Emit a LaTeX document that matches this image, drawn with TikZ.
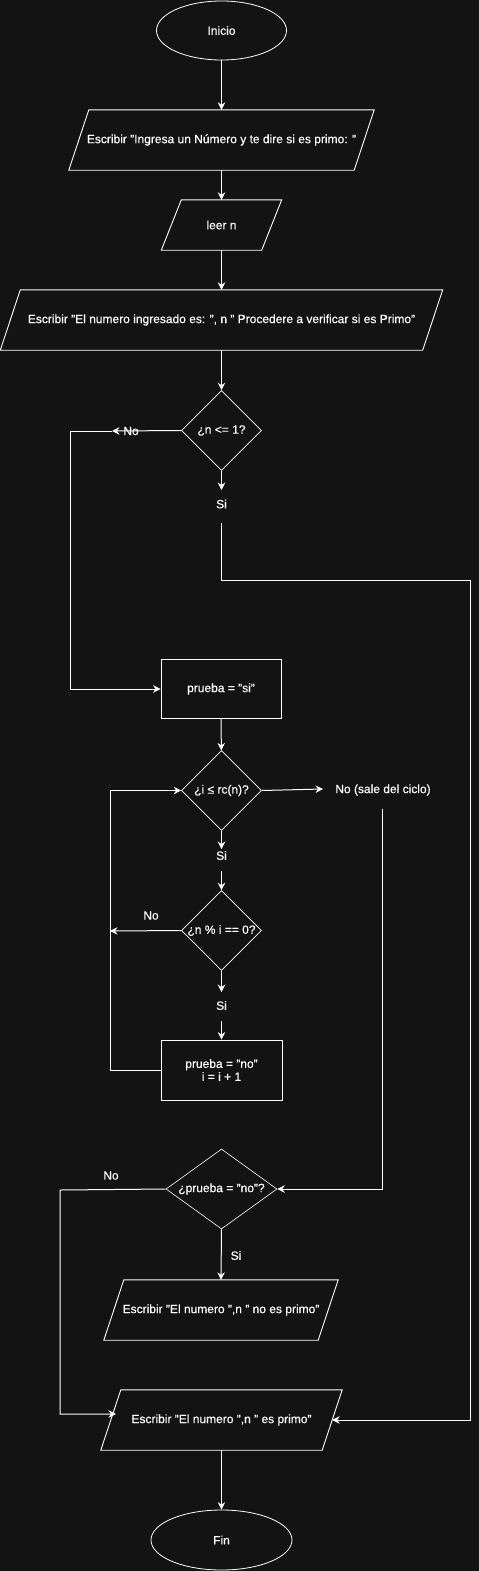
\documentclass[tikz,border=0pt]{standalone}
\usepackage{fontspec}
\setmainfont{Liberation Sans}[FakeBold=0.35]
\usetikzlibrary{shapes.geometric,arrows.meta}
\definecolor{bg}{HTML}{131313}
\newcommand{\paraoutline}[1]{%
  \draw[white, line width=0.9pt] ([xshift=10pt]#1.north west) -- ([xshift=10pt]#1.north east)
    -- ([xshift=-10pt]#1.south east) -- ([xshift=-10pt]#1.south west) -- cycle;}
\begin{document}
\begin{tikzpicture}[x=1pt,y=-1pt,
  font=\fontsize{12}{14}\selectfont,
  every node/.style={text=white},
  line/.style={draw=white, line width=1pt},
  arr/.style={line, -{Stealth[length=7.5pt,width=7.5pt,inset=2.5pt]}},
  term/.style={ellipse, draw=white, line width=0.8pt, inner sep=0pt},
  io/.style={rectangle, minimum height=60pt, inner sep=0pt},
  proc/.style={rectangle, draw=white, line width=0.9pt, minimum width=120pt, minimum height=59pt, align=center},
  dec/.style={diamond, draw=white, line width=0.6pt, minimum width=80pt, minimum height=80pt, inner sep=0pt},
  lbl/.style={inner sep=1pt}
]
\fill[bg] (0,0) rectangle (479,1571);
\useasboundingbox (0,0) rectangle (479,1571);

% nodes
\node[term, minimum width=130pt, minimum height=59pt] (ini) at (221.5,30.5) {Inicio};
\node[io, minimum width=285pt] (p1) at (221.5,140) {Escribir "Ingresa un Número y te dire si es primo: "};
\node[io, minimum width=100pt, minimum height=50pt] (p2) at (221.5,225) {leer n};
\node[io, minimum width=422pt] (p3) at (221.5,320) {Escribir "El numero ingresado es: ", n " Procedere a verificar si es Primo"};
\node[dec] (d1) at (221.5,430.5) {\makebox[0pt]{¿n <= 1?}};
\node[lbl] (no1) at (131,431) {No};
\node[lbl] (si1) at (221.5,504) {Si};
\node[proc] (pr) at (221,689) {prueba = "si"};
\node[dec] (d2) at (221.5,790.5) {\makebox[0pt]{¿i ≤ rc(n)?}};
\node[lbl] (noc) at (383,790) {No (sale del ciclo)};
\node[lbl] (si2) at (221.5,855.5) {Si};
\node[dec] (d3) at (221.5,930.5) {\makebox[0pt]{¿n \% i == 0?}};
\node[lbl] (no3) at (151,915.5) {No};
\node[lbl] (si3) at (221.5,1005.5) {Si};
\node[proc, minimum width=121pt, minimum height=60pt] (b2) at (221.5,1070) {prueba = "no"\\[-1pt]i = i + 1};
\node[dec, minimum width=111pt] (d4) at (221.5,1189) {\makebox[0pt]{¿prueba = "no"?}};
\node[lbl] (no4) at (111,1175.5) {No};
\node[lbl] (si4) at (236,1255.5) {Si};
\node[io, minimum width=214pt] (p5) at (221,1310) {Escribir "El numero ",n " no es primo"};
\node[io, minimum width=221pt] (p6) at (221.5,1420) {Escribir "El numero ",n " es primo"};
\node[term, minimum width=141pt, minimum height=60pt] (fin) at (221.5,1540) {Fin};

\paraoutline{p1}
\paraoutline{p2}
\paraoutline{p3}
\paraoutline{p5}
\paraoutline{p6}

% helper coordinates
\coordinate (t1) at (112,431);
\coordinate (c1) at (70,431);
\coordinate (s1) at (221.5,490);
\coordinate (a1) at (221,523);
\coordinate (a2) at (470,580);
\coordinate (t2) at (323,789);
\coordinate (b1) at (382,809);
\coordinate (s2) at (221.5,849);
\coordinate (s2b) at (221.5,871);
\coordinate (L3) at (110,931);
\coordinate (L) at (110,1070);
\coordinate (s3) at (221.5,992);
\coordinate (s3b) at (221.5,1021);
\coordinate (c4) at (60,1190);
\coordinate (t6) at (116,1414);

% connectors
\draw[arr] (ini) -- (p1);
\draw[arr] (p1) -- (p2);
\draw[arr] (p2) -- (p3);
\draw[arr] (p3) -- (d1);
\draw[arr] (d1.west) -- (t1);
\draw[arr] (t1) -- (c1) |- (pr.west);
\draw[arr] (d1.south) -- (s1);
\draw[arr] (a1) |- (a2) |- (p6.east);
\draw[arr] (pr) -- (d2);
\draw[arr] (d2.east) -- (t2);
\draw[arr] (b1) |- (d4.east);
\draw[arr] (d2.south) -- (s2);
\draw[arr] (s2b) -- (d3.north);
\draw[arr] (d3.west) -- (L3);
\draw[arr] (d3.south) -- (s3);
\draw[arr] (s3b) -- (b2.north);
\draw[arr] (b2.west) -- (L) |- (d2.west);
\draw[arr] (d4.west) -- (c4) |- (t6);
\draw[arr] (d4.south) -- (p5.north);
\draw[arr] (p6) -- (fin);
\end{tikzpicture}
\end{document}
